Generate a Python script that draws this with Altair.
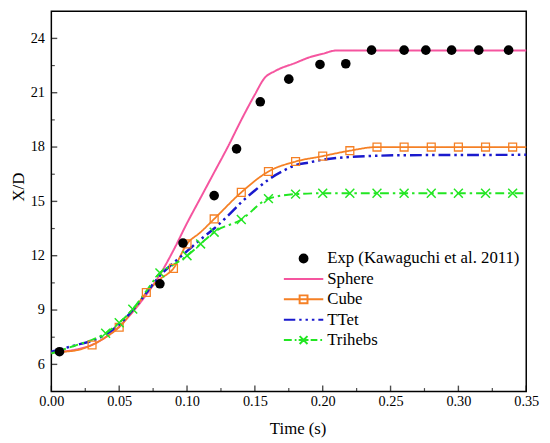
import altair as alt
import pandas as pd

# ---------------- data ----------------
exp_t = [0.006, 0.080, 0.097, 0.120, 0.1365, 0.154, 0.175, 0.198, 0.217, 0.236, 0.260, 0.276, 0.295, 0.315, 0.337]
exp_y = [6.7, 10.45, 12.7, 15.32, 17.9, 20.5, 21.75, 22.56, 22.6, 23.35, 23.35, 23.35, 23.35, 23.35, 23.35]

sphere_t = [0, 0.01, 0.02, 0.03, 0.04, 0.05, 0.06, 0.07, 0.08, 0.09, 0.10, 0.11, 0.12, 0.13, 0.14, 0.15, 0.157, 0.165, 0.18, 0.19, 0.20, 0.21, 0.35]
sphere_y = [6.65, 6.72, 6.85, 7.08, 7.5, 8.1, 8.9, 9.85, 10.95, 12.3, 13.8, 15.2, 16.6, 18.0, 19.5, 20.9, 21.8, 22.2, 22.65, 22.95, 23.15, 23.33, 23.33]

cube_t = [0, 0.01, 0.02, 0.03, 0.04, 0.05, 0.06, 0.07, 0.08, 0.09, 0.10, 0.11, 0.12, 0.14, 0.16, 0.18, 0.20, 0.22, 0.24, 0.26, 0.28, 0.30, 0.32, 0.34, 0.35]
cube_y = [6.65, 6.7, 6.8, 7.07, 7.5, 8.05, 8.95, 9.97, 10.7, 11.3, 12.65, 13.3, 14.03, 15.5, 16.65, 17.2, 17.5, 17.8, 18.0, 18.0, 18.0, 18.0, 18.0, 18.0, 18.0]
cube_mt = [0.03, 0.05, 0.07, 0.09, 0.10, 0.12, 0.14, 0.16, 0.18, 0.20, 0.22, 0.24, 0.26, 0.28, 0.30, 0.32, 0.34]
cube_my = [7.07, 8.05, 9.97, 11.3, 12.65, 14.03, 15.5, 16.65, 17.2, 17.5, 17.8, 18.0, 18.0, 18.0, 18.0, 18.0, 18.0]

ttet_t = [0, 0.01, 0.02, 0.03, 0.04, 0.05, 0.06, 0.07, 0.08, 0.09, 0.10, 0.11, 0.12, 0.13, 0.14, 0.15, 0.16, 0.17, 0.18, 0.19, 0.20, 0.22, 0.24, 0.26, 0.35]
ttet_y = [6.7, 6.9, 7.1, 7.3, 7.65, 8.2, 9.0, 9.95, 10.9, 11.6, 12.25, 12.9, 13.5, 14.2, 14.95, 15.6, 16.2, 16.65, 17.0, 17.15, 17.3, 17.45, 17.52, 17.55, 17.57]

tri_t = [0, 0.01, 0.02, 0.03, 0.04, 0.05, 0.06, 0.07, 0.08, 0.09, 0.10, 0.11, 0.12, 0.14, 0.16, 0.18, 0.20, 0.22, 0.24, 0.26, 0.28, 0.30, 0.32, 0.34, 0.35]
tri_y = [6.6, 6.85, 7.1, 7.35, 7.72, 8.3, 9.05, 10.05, 11.05, 11.5, 12.0, 12.65, 13.3, 14.0, 15.15, 15.4, 15.45, 15.45, 15.45, 15.45, 15.45, 15.45, 15.45, 15.45, 15.45]
tri_mt = [0.04, 0.05, 0.06, 0.08, 0.10, 0.11, 0.12, 0.14, 0.16, 0.18, 0.20, 0.22, 0.24, 0.26, 0.28, 0.30, 0.32, 0.34]
tri_my = [7.72, 8.3, 9.05, 11.05, 12.0, 12.65, 13.3, 14.0, 15.15, 15.4, 15.45, 15.45, 15.45, 15.45, 15.45, 15.45, 15.45, 15.45]

series_names = ["Exp (Kawaguchi et al. 2011)", "Sphere", "Cube", "TTet", "Trihebs"]
series_colors = ["#000000", "#F5559F", "#F58025", "#1A1ACD", "#22E622"]

x_major = [0.0, 0.05, 0.10, 0.15, 0.20, 0.25, 0.30, 0.35]
x_minor = [0.025, 0.075, 0.125, 0.175, 0.225, 0.275, 0.325]
y_major = [6, 9, 12, 15, 18, 21, 24]
y_minor = [7.5, 10.5, 13.5, 16.5, 19.5, 22.5]

# ---------------- styling ----------------
FONT = "Times New Roman, Liberation Serif, DejaVu Serif, serif"
W, H = 482, 386
xscale = alt.Scale(domain=[0, 0.35], nice=False, zero=False)
yscale = alt.Scale(domain=[4.5, 25.5], nice=False, zero=False)

xaxis = alt.Axis(values=x_major, format=".2f", title="Time (s)", grid=False, ticks=False, tickSize=0,
                 domain=False, labelFont=FONT, labelFontSize=14.5, labelColor="black",
                 labelPadding=3, labelFlush=False, labelOverlap=False,
                 titleFont=FONT, titleFontSize=17, titleFontWeight="normal", titleColor="black",
                 titleX=250, titleY=38, titleBaseline="middle", titleAlign="center")
yaxis = alt.Axis(values=y_major, format="d", title="X/D", grid=False, ticks=False, tickSize=0,
                 domain=False, labelFont=FONT, labelFontSize=14.5, labelColor="black",
                 labelPadding=7, labelOverlap=False,
                 titleFont=FONT, titleFontSize=17, titleFontWeight="normal", titleColor="black",
                 titleX=-33, titleY=178, titleBaseline="middle", titleAlign="center", titleAngle=-90)


def line_layer(ts, ys, color, width, dash):
    df = pd.DataFrame({"t": ts, "y": ys})
    return alt.Chart(df).mark_line(color=color, strokeWidth=width, strokeDash=dash,
                                   interpolate="monotone", strokeCap="butt").encode(
        x=alt.X("t:Q", scale=xscale, axis=xaxis),
        y=alt.Y("y:Q", scale=yscale, axis=yaxis),
    )


sphere = line_layer(sphere_t, sphere_y, series_colors[1], 2, [1, 0])
cube = line_layer(cube_t, cube_y, series_colors[2], 1.8, [1, 0])
ttet = line_layer(ttet_t, ttet_y, series_colors[3], 2.5, [12, 4, 2.5, 4, 2.5, 4])
tri = line_layer(tri_t, tri_y, series_colors[4], 2, [9, 4, 2.5, 4])

cube_pts = alt.Chart(pd.DataFrame({"t": cube_mt, "y": cube_my})).mark_point(
    shape="square", size=64, filled=False, color=series_colors[2], strokeWidth=1.3, opacity=1).encode(
    x=alt.X("t:Q", scale=xscale), y=alt.Y("y:Q", scale=yscale))

tri_pts = alt.Chart(pd.DataFrame({"t": tri_mt, "y": tri_my})).mark_point(
    shape="M-1,-1L1,1M-1,1L1,-1", size=81, filled=False, color=series_colors[4], strokeWidth=1.5, opacity=1).encode(
    x=alt.X("t:Q", scale=xscale), y=alt.Y("y:Q", scale=yscale))

exp_pts = alt.Chart(pd.DataFrame({"t": exp_t, "y": exp_y})).mark_circle(
    size=95, color="black", opacity=1).encode(
    x=alt.X("t:Q", scale=xscale), y=alt.Y("y:Q", scale=yscale))

# inward ticks
xt_major = alt.Chart(pd.DataFrame({"t": x_major})).mark_tick(
    orient="vertical", size=6, thickness=1.4, color="black", yOffset=-3).encode(
    x=alt.X("t:Q", scale=xscale), y=alt.value(H))
xt_minor = alt.Chart(pd.DataFrame({"t": x_minor})).mark_tick(
    orient="vertical", size=3.5, thickness=1.2, color="black", yOffset=-1.75).encode(
    x=alt.X("t:Q", scale=xscale), y=alt.value(H))
yt_major = alt.Chart(pd.DataFrame({"y": y_major})).mark_tick(
    orient="horizontal", size=6, thickness=1.4, color="black", xOffset=3).encode(
    y=alt.Y("y:Q", scale=yscale), x=alt.value(0))
yt_minor = alt.Chart(pd.DataFrame({"y": y_minor})).mark_tick(
    orient="horizontal", size=3.5, thickness=1.2, color="black", xOffset=1.75).encode(
    y=alt.Y("y:Q", scale=yscale), x=alt.value(0))

# legend (symbols combine line + marker as custom paths)
legend_paths = [
    "M0.2,0A0.2,0.2,0,1,1,-0.2,0A0.2,0.2,0,1,1,0.2,0Z",
    "M-1,0L1,0",
    "M-1,0L1,0M-0.2,-0.2L0.2,-0.2L0.2,0.2L-0.2,0.2Z",
    "M-1,0L-0.42,0M-0.22,0L-0.1,0M0.1,0L0.22,0M0.42,0L0.55,0M0.75,0L1,0",
    "M-1,0L-0.6,0M-0.45,0L-0.36,0M-0.2,-0.2L0.2,0.2M-0.2,0.2L0.2,-0.2M-0.25,0L0.25,0M0.36,0L0.7,0M0.85,0L0.94,0",
]
legend_fills = ["#000000", "transparent", "transparent", "transparent", "transparent"]

leg = alt.Legend(title=None, orient="none", legendX=235, legendY=242, symbolSize=1600,
                 symbolStrokeWidth=2, labelOffset=3, rowPadding=2.7, clipHeight=18, padding=0,
                 labelFont=FONT, labelFontSize=17, labelColor="black", labelLimit=400,
                 symbolOpacity=1)

legend_layer = alt.Chart(pd.DataFrame({"series": series_names})).mark_point(
    filled=True, opacity=0, strokeWidth=2).encode(
    shape=alt.Shape("series:N", scale=alt.Scale(domain=series_names, range=legend_paths), legend=leg),
    stroke=alt.Stroke("series:N", scale=alt.Scale(domain=series_names, range=series_colors), legend=leg),
    fill=alt.Fill("series:N", scale=alt.Scale(domain=series_names, range=legend_fills), legend=leg),
)

chart = alt.layer(
    sphere, cube, ttet, tri, cube_pts, tri_pts, exp_pts,
    xt_major, xt_minor, yt_major, yt_minor, legend_layer
).properties(
    width=W, height=H,
    autosize=alt.AutoSizeParams(type="none"),
    padding={"left": 44, "top": 0, "right": 16, "bottom": 52},
    background="white",
).configure_view(stroke="black", strokeWidth=1.5)

chart.save("out.html", embed_options={"renderer": "svg", "actions": False})
